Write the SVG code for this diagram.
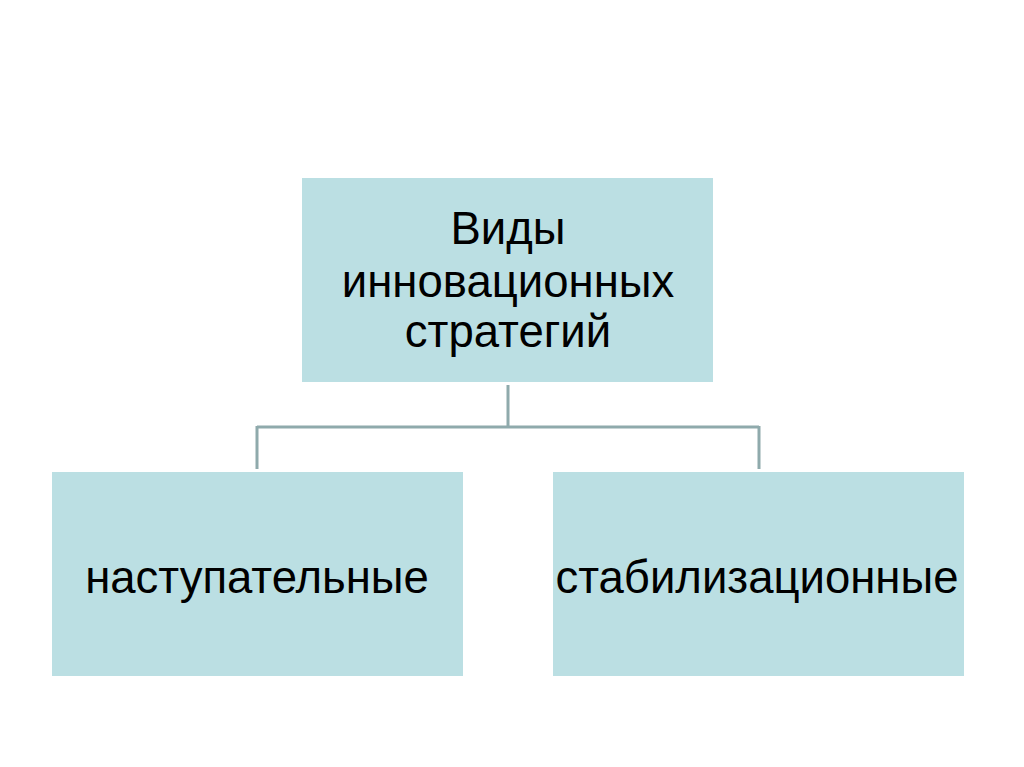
<svg xmlns="http://www.w3.org/2000/svg" width="1024" height="767" viewBox="0 0 1024 767">
<style>
.box{fill:#bbdfe3;}
.lbl{font-family:"Liberation Sans",Arial,sans-serif;font-size:45.5px;fill:#000;text-anchor:middle;}
.conn{fill:none;stroke:#8faaac;stroke-width:3;}
</style>
<rect width="1024" height="767" fill="#ffffff"/>
<g id="connectors">
<path class="conn" d="M508 385 V427 M257 427 H759 M257 426 V469 M759 426 V469"/>
</g>
<g id="root">
<rect class="box" x="302" y="178" width="411" height="204"/>
<text class="lbl" x="508" y="244">Виды</text>
<text class="lbl" x="508" y="297">инновационных</text>
<text class="lbl" x="508" y="347">стратегий</text>
</g>
<g id="offensive">
<rect class="box" x="52" y="472" width="411" height="204"/>
<text class="lbl" x="257" y="593">наступательные</text>
</g>
<g id="stabilizing">
<rect class="box" x="553" y="472" width="411" height="204"/>
<text class="lbl" x="757" y="593">стабилизационные</text>
</g>
</svg>
